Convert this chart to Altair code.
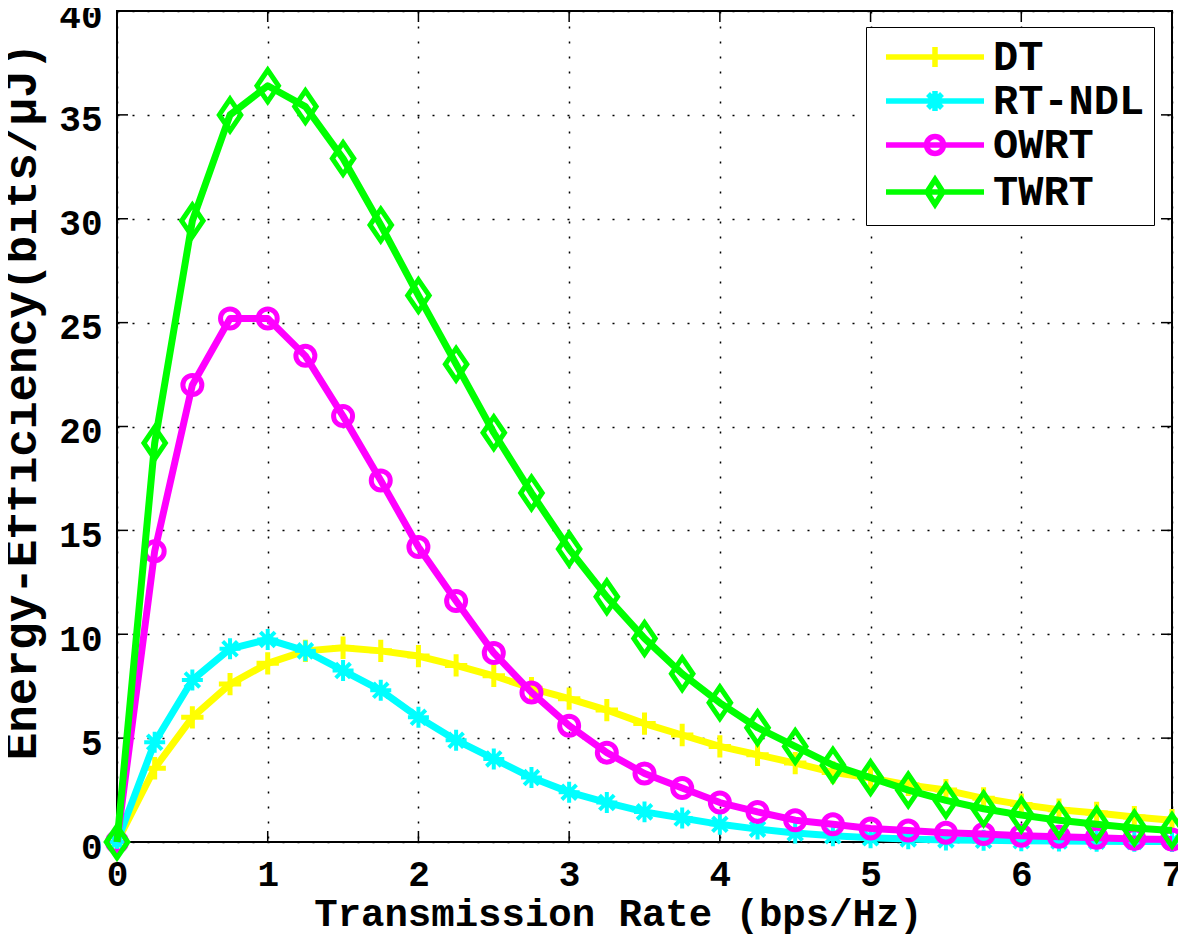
import altair as alt
import pandas as pd

rate = [0, 0.25, 0.5, 0.75, 1, 1.25, 1.5, 1.75, 2, 2.25, 2.5, 2.75, 3, 3.25, 3.5,
        3.75, 4, 4.25, 4.5, 4.75, 5, 5.25, 5.5, 5.75, 6, 6.25, 6.5, 6.75, 7]

dt = [0, 3.55, 6.0, 7.6, 8.6, 9.2, 9.35, 9.2, 8.95, 8.5, 8.0, 7.4, 6.9, 6.35, 5.7,
      5.15, 4.6, 4.2, 3.8, 3.35, 3.08, 2.75, 2.5, 2.1, 1.8, 1.55, 1.4, 1.2, 1.05]
rt_ndl = [0, 4.8, 7.8, 9.3, 9.75, 9.2, 8.25, 7.3, 6.0, 4.9, 4.0, 3.1, 2.4, 1.9, 1.45,
          1.15, 0.85, 0.62, 0.43, 0.3, 0.2, 0.15, 0.1, 0.08, 0.06, 0.05, 0.04, 0.03, 0.02]
owrt = [0, 14.0, 22.0, 25.2, 25.2, 23.4, 20.5, 17.4, 14.2, 11.6, 9.1, 7.2, 5.6, 4.3, 3.3,
        2.6, 1.9, 1.45, 1.05, 0.85, 0.65, 0.55, 0.45, 0.38, 0.3, 0.25, 0.2, 0.15, 0.12]
twrt = [0, 19.2, 29.9, 35.0, 36.4, 35.4, 32.9, 29.7, 26.3, 23.0, 19.7, 16.8, 14.1, 11.8, 9.8,
        8.1, 6.7, 5.5, 4.6, 3.7, 3.1, 2.5, 2.0, 1.6, 1.3, 1.05, 0.85, 0.67, 0.55]

series_names = ["DT", "RT-NDL", "OWRT", "TWRT"]
series_values = [dt, rt_ndl, owrt, twrt]
colors = ["#ffff00", "#00ffff", "#ff00ff", "#00ff00"]

x_ticks = [0, 1, 2, 3, 4, 5, 6, 7]
y_ticks = [0, 5, 10, 15, 20, 25, 30, 35, 40]

rows = []
for name, vals in zip(series_names, series_values):
    for xv, yv in zip(rate, vals):
        rows.append({"rate": xv, "ee": yv, "series": name})
df = pd.DataFrame(rows)

W, H = 1055, 831
FONT = "Liberation Mono"

xs = alt.Scale(domain=[0, 7], nice=False, zero=False)
ys = alt.Scale(domain=[0, 40], nice=False)


def cscale():
    return alt.Scale(domain=series_names, range=colors)


marker_shape = {
    "DT": "M-1,0L1,0M0,-1L0,1",
    "RT-NDL": "M-1,0L1,0M0,-1L0,1M-0.7,-0.7L0.7,0.7M-0.7,0.7L0.7,-0.7",
    "OWRT": "circle",
    "TWRT": "M0,-1L0.68,0L0,1L-0.68,0Z",
}
marker_size = {"DT": 500, "RT-NDL": 440, "OWRT": 361, "TWRT": 1000}
marker_stroke = {"DT": 5, "RT-NDL": 4, "OWRT": 5, "TWRT": 5}

legend_paths = [
    "M-1,0L8.8,0M3.9,-1L3.9,1",
    "M-1,0L8.8,0M3.9,-1L3.9,1M3.2,-0.7L4.6,0.7M3.2,0.7L4.6,-0.7",
    "M-1,0L8.8,0M3.05,0A0.85,0.85 0 1,0 4.75,0A0.85,0.85 0 1,0 3.05,0",
    "M-1,0L8.8,0M3.9,-1.25L4.7,0L3.9,1.25L3.1,0Z",
]

x_axis = alt.Axis(values=x_ticks, title="Transmission Rate (bps/Hz)", format="d",
                  labelFontSize=36, labelPadding=15, labelFlush=False, titleFontSize=39,
                  titleX=501, titleY=83, titleBaseline="alphabetic", titleAnchor="middle")
y_axis = alt.Axis(values=y_ticks, title="Energy-Efficiency(bits/\u03bcJ)", format="d",
                  labelFontSize=36, labelPadding=15, labelFlush=False, labelOffset=5,
                  titleFontSize=46,
                  titleX=-82, titleY=390, titleBaseline="alphabetic", titleAngle=270)

leg = alt.Legend(title=None, orient="none", legendX=749, legendY=16,
                 fillColor="white", strokeColor="black", padding=9,
                 labelFont=FONT, labelFontSize=42, labelFontWeight="bold", labelColor="black",
                 symbolSize=400, symbolStrokeWidth=5.5, labelOffset=76, rowPadding=2,
                 symbolFillColor="transparent", symbolOpacity=1)

layers = []
for i, name in enumerate(series_names):
    sub = df[df["series"] == name]
    base = alt.Chart(sub)
    line = base.mark_line(strokeWidth=7, strokeJoin="round", opacity=1).encode(
        x=alt.X("rate:Q", scale=xs, axis=x_axis),
        y=alt.Y("ee:Q", scale=ys, axis=y_axis),
        color=alt.Color("series:N", scale=cscale(), legend=None),
    )
    pts = base.mark_point(shape=marker_shape[name], size=marker_size[name], filled=False,
                          strokeWidth=marker_stroke[name], opacity=1).encode(
        x=alt.X("rate:Q", scale=xs, axis=x_axis),
        y=alt.Y("ee:Q", scale=ys, axis=y_axis),
        color=alt.Color("series:N", scale=cscale(), legend=None),
    )
    layers += [line, pts]

legend_layer = alt.Chart(df).transform_filter("datum.rate < 0").mark_point(
    filled=False, strokeWidth=5.5, opacity=1).encode(
    x=alt.X("rate:Q", scale=xs, axis=x_axis),
    y=alt.Y("ee:Q", scale=ys, axis=y_axis),
    color=alt.Color("series:N", scale=cscale(), legend=leg),
    shape=alt.Shape("series:N", scale=alt.Scale(domain=series_names, range=legend_paths), legend=leg),
)

xt = pd.DataFrame({"t": x_ticks})
yt = pd.DataFrame({"t": y_ticks})
TL = 11
tick_layers = [
    alt.Chart(xt).mark_rule(color="black", strokeWidth=1.5).encode(
        x=alt.X("t:Q", scale=xs, axis=x_axis), y=alt.value(H), y2=alt.value(H - TL)),
    alt.Chart(xt).mark_rule(color="black", strokeWidth=1.5).encode(
        x=alt.X("t:Q", scale=xs, axis=x_axis), y=alt.value(0), y2=alt.value(TL)),
    alt.Chart(yt).mark_rule(color="black", strokeWidth=1.5).encode(
        y=alt.Y("t:Q", scale=ys, axis=y_axis), x=alt.value(0), x2=alt.value(TL)),
    alt.Chart(yt).mark_rule(color="black", strokeWidth=1.5).encode(
        y=alt.Y("t:Q", scale=ys, axis=y_axis), x=alt.value(W), x2=alt.value(W - TL)),
]

chart = alt.layer(*tick_layers, *layers, legend_layer).resolve_scale(
    shape="independent", color="independent"
).properties(
    width=W, height=H,
    autosize=alt.AutoSizeParams(type="none"),
    padding={"left": 109, "top": 3, "right": 6, "bottom": 96},
    background="white",
).configure(
    font=FONT,
).configure_view(
    stroke="black", strokeWidth=2,
).configure_axis(
    domain=False, ticks=False, grid=True, gridColor="black", gridDash=[2, 13],
    gridWidth=1.5, gridOpacity=1,
    labelFont=FONT, labelFontWeight="bold", labelColor="black",
    titleFont=FONT, titleFontWeight="bold", titleColor="black",
)

chart.save("out.html", embed_options={"renderer": "svg", "actions": False})
